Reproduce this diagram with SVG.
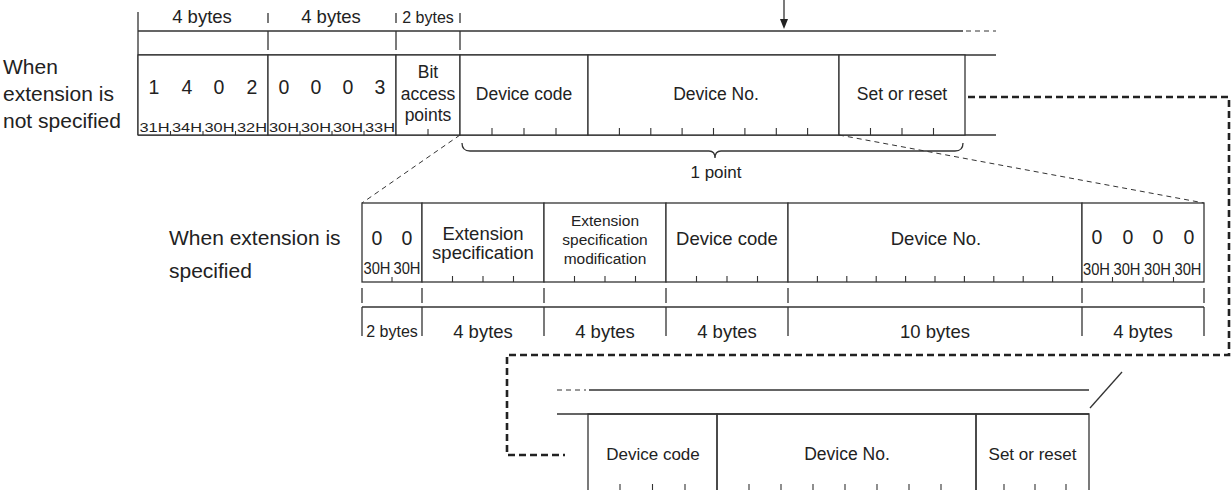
<svg xmlns="http://www.w3.org/2000/svg" width="1232" height="490" viewBox="0 0 1232 490">
<defs>
<style>
.ln{stroke:#333;stroke-width:1.3;fill:none}
.tk{stroke:#333;stroke-width:1.1;fill:none}
.cell{stroke:#333;stroke-width:1.3;fill:#fff}
.thd{stroke:#333;stroke-width:1;fill:none;stroke-dasharray:5 4}
.bd{stroke:#222;stroke-width:2.6;fill:none;stroke-dasharray:7 4}
text{font-family:"Liberation Sans",Arial,sans-serif;fill:#222}
.lbl{font-size:21px}
.by{font-size:18.5px;text-anchor:middle}
.by2{font-size:16px;text-anchor:middle}
.dg{font-size:19.5px;text-anchor:middle}
.hx{font-size:13.5px;text-anchor:middle}
.hx2{font-size:16px;text-anchor:middle}
.ct{font-size:17.5px;text-anchor:middle}
.ct2{font-size:18.5px;text-anchor:middle}
.cs{font-size:15.5px;text-anchor:middle}
.cb{font-size:17px;text-anchor:middle}
</style>
</defs>

<!-- ===== Upper frame (extension not specified) ===== -->
<g id="upper-labels">
<text class="lbl" x="3" y="74">When</text>
<text class="lbl" x="3" y="101">extension is</text>
<text class="lbl" x="3" y="128">not specified</text>
</g>

<g id="upper-size-row">
<path class="ln" d="M138,12V135 M268,13V23 M396,13V23 M460,13V23 M268,31V50 M396,31V50 M460,31V50"/>
<text class="by" x="202" y="23">4 bytes</text>
<text class="by" x="331" y="23">4 bytes</text>
<text class="by2" x="428" y="23">2 bytes</text>
</g>

<g id="upper-rails">
<path class="ln" d="M138,31H963 M138,55H996 M138,135H996"/>
<path class="thd" d="M966,31H996"/>
</g>

<g id="u-1402">
<rect class="cell" x="138" y="55" width="130" height="80"/>
<text class="dg" x="154" y="94">1</text><text class="dg" x="187" y="94">4</text><text class="dg" x="219" y="94">0</text><text class="dg" x="252" y="94">2</text>
<text class="hx" x="154.5" y="132" textLength="30" lengthAdjust="spacingAndGlyphs">31H</text>
<text class="hx" x="187" y="132" textLength="30" lengthAdjust="spacingAndGlyphs">34H</text>
<text class="hx" x="219.5" y="132" textLength="30" lengthAdjust="spacingAndGlyphs">30H</text>
<text class="hx" x="252" y="132" textLength="30" lengthAdjust="spacingAndGlyphs">32H</text>
<path class="tk" d="M170.5,131V135 M203,131V135 M235.5,131V135"/>
</g>

<g id="u-0003">
<rect class="cell" x="268" y="55" width="128" height="80"/>
<text class="dg" x="284" y="94">0</text><text class="dg" x="316" y="94">0</text><text class="dg" x="348" y="94">0</text><text class="dg" x="380" y="94">3</text>
<text class="hx" x="284" y="132" textLength="30" lengthAdjust="spacingAndGlyphs">30H</text>
<text class="hx" x="316" y="132" textLength="30" lengthAdjust="spacingAndGlyphs">30H</text>
<text class="hx" x="348" y="132" textLength="30" lengthAdjust="spacingAndGlyphs">30H</text>
<text class="hx" x="380" y="132" textLength="30" lengthAdjust="spacingAndGlyphs">33H</text>
<path class="tk" d="M300,131V135 M332,131V135 M364,131V135"/>
</g>

<g id="u-bit-access">
<rect class="cell" x="396" y="55" width="64" height="80"/>
<text class="ct" x="428" y="78">Bit</text>
<text class="ct" x="428" y="100">access</text>
<text class="ct" x="428" y="121">points</text>
<path class="tk" d="M428,129V135"/>
</g>

<g id="u-device-code">
<rect class="cell" x="460" y="55" width="128" height="80"/>
<text class="ct" x="524" y="100">Device code</text>
<path class="tk" d="M492,128V135 M524,128V135 M556,128V135"/>
</g>

<g id="u-device-no">
<rect class="cell" x="588" y="55" width="251" height="80"/>
<text class="ct" x="716" y="100">Device No.</text>
<path class="tk" d="M619.4,128V135 M650.8,128V135 M682.1,128V135 M713.5,128V135 M744.9,128V135 M776.3,128V135 M807.6,128V135"/>
</g>

<g id="u-set-reset">
<rect class="cell" x="839" y="55" width="126" height="80"/>
<text class="ct" x="902" y="100">Set or reset</text>
<path class="tk" d="M870.5,128V135 M902,128V135 M933.5,128V135"/>
</g>

<g id="one-point">
<path class="ln" d="M462,143Q462,151 470,151L709,151Q715,151 715,158Q715,151 721,151L955,151Q963,151 963,143"/>
<text class="cb" x="716" y="178">1 point</text>
</g>

<!-- ===== Lower frame (extension specified) ===== -->
<g id="lower-labels">
<text class="lbl" x="169" y="245">When extension is</text>
<text class="lbl" x="169" y="278">specified</text>
</g>

<g id="l-0">
<rect class="cell" x="362" y="203" width="60" height="79"/>
<text class="dg" x="377" y="245">0</text><text class="dg" x="407" y="245">0</text>
<text class="hx2" x="377" y="274" textLength="27" lengthAdjust="spacingAndGlyphs">30H</text>
<text class="hx2" x="407" y="274" textLength="27" lengthAdjust="spacingAndGlyphs">30H</text>
<path class="tk" d="M392,277V282"/>
</g>

<g id="l-ext-spec">
<rect class="cell" x="422" y="203" width="122" height="79"/>
<text class="ct2" x="483" y="240">Extension</text>
<text class="ct2" x="483" y="259">specification</text>
<path class="tk" d="M452.5,276V282 M483,276V282 M513.5,276V282"/>
</g>

<g id="l-ext-mod">
<rect class="cell" x="544" y="203" width="122" height="79"/>
<text class="cs" x="605" y="226">Extension</text>
<text class="cs" x="605" y="245">specification</text>
<text class="cs" x="605" y="264">modification</text>
<path class="tk" d="M574.5,276V282 M605,276V282 M635.5,276V282"/>
</g>

<g id="l-device-code">
<rect class="cell" x="666" y="203" width="122" height="79"/>
<text class="ct2" x="727" y="245">Device code</text>
<path class="tk" d="M696.5,276V282 M727,276V282 M757.5,276V282"/>
</g>

<g id="l-device-no">
<rect class="cell" x="788" y="203" width="294" height="79"/>
<text class="ct2" x="936" y="245">Device No.</text>
<path class="tk" d="M817.4,276V282 M846.8,276V282 M876.2,276V282 M905.6,276V282 M935,276V282 M964.4,276V282 M993.8,276V282 M1023.2,276V282 M1052.6,276V282"/>
</g>

<g id="l-0000">
<rect class="cell" x="1082" y="203" width="122" height="79"/>
<text class="dg" x="1097" y="244">0</text><text class="dg" x="1128" y="244">0</text><text class="dg" x="1158" y="244">0</text><text class="dg" x="1189" y="244">0</text>
<text class="hx2" x="1096.5" y="275" textLength="27" lengthAdjust="spacingAndGlyphs">30H</text>
<text class="hx2" x="1127" y="275" textLength="27" lengthAdjust="spacingAndGlyphs">30H</text>
<text class="hx2" x="1157.5" y="275" textLength="27" lengthAdjust="spacingAndGlyphs">30H</text>
<text class="hx2" x="1188" y="275" textLength="27" lengthAdjust="spacingAndGlyphs">30H</text>
<path class="tk" d="M1112.5,277V282 M1143,277V282 M1173.5,277V282"/>
</g>

<g id="lower-size-row">
<path class="ln" d="M362,307H1204"/>
<path class="ln" d="M362,288V303 M422,288V303 M544,288V303 M666,288V303 M788,288V303 M1082,288V303 M1204,288V303 M362,307V336 M422,307V336 M544,307V336 M666,307V336 M788,307V336 M1082,307V336 M1204,307V336"/>
<text class="by2" x="392" y="337">2 bytes</text>
<text class="by" x="483" y="338">4 bytes</text>
<text class="by" x="605" y="338">4 bytes</text>
<text class="by" x="727" y="338">4 bytes</text>
<text class="by" x="935" y="338">10 bytes</text>
<text class="by" x="1143" y="338">4 bytes</text>
</g>

<!-- ===== Bottom frame (continuation) ===== -->
<g id="bottom-rails">
<path class="ln" d="M589,390H1089 M557,414H1089"/>
<path class="thd" d="M557,390H586"/>
<path class="ln" d="M1090,408L1122,372"/>
</g>

<g id="b-device-code">
<path class="ln" d="M588,490V414H717V490"/>
<text class="cb" x="653" y="460">Device code</text>
<path class="tk" d="M620,484V490 M652.5,484V490 M685,484V490"/>
</g>

<g id="b-device-no">
<path class="ln" d="M717,490V414H976V490"/>
<text class="ct" x="847" y="460">Device No.</text>
<path class="tk" d="M749,484V490 M781,484V490 M813,484V490 M845,484V490 M877,484V490 M909,484V490 M941,484V490"/>
</g>

<g id="b-set-reset">
<path class="ln" d="M976,490V414H1089V490"/>
<text class="cb" x="1032.5" y="460">Set or reset</text>
<path class="tk" d="M1004,484V490 M1035,484V490 M1066,484V490"/>
</g>

<!-- ===== Connectors ===== -->
<g id="connectors">
<path class="ln" d="M784,0V20"/>
<polygon points="780,19 788,19 784,29" fill="#222"/>
<path class="thd" d="M460,135L362,203"/>
<path class="thd" d="M839,135L1204,203"/>
<path class="bd" d="M968,97H1229V355H507V455H565"/>
</g>
</svg>
